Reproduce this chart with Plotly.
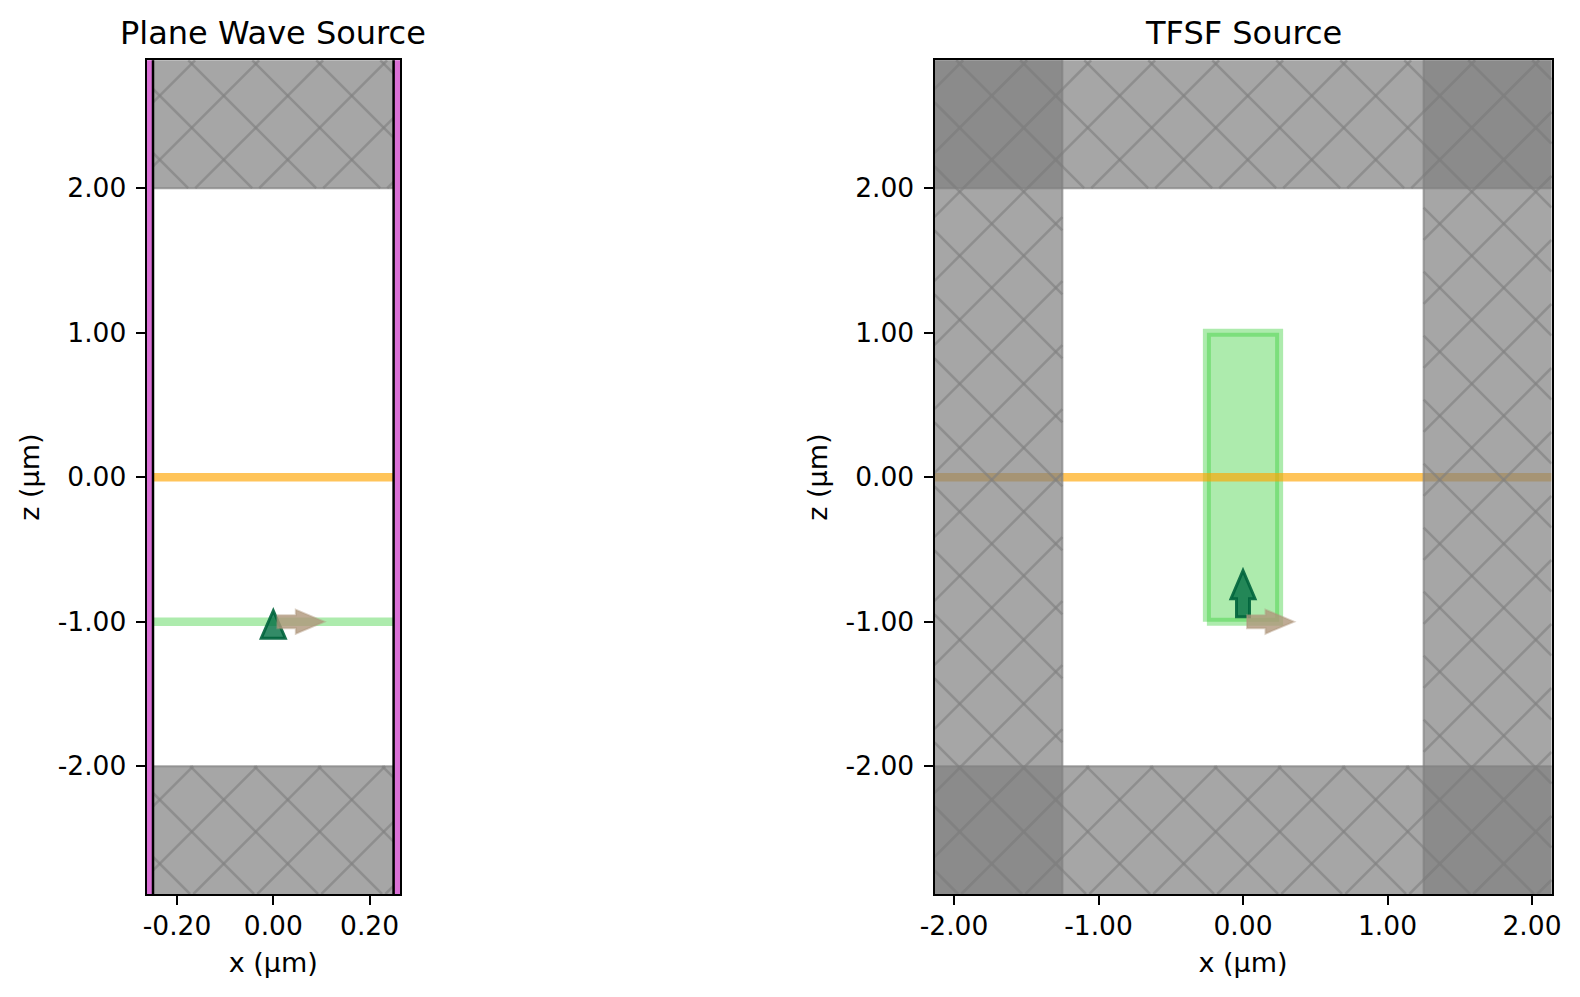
import plotly.graph_objects as go

# page offset of the plot div (default body margin)
PAGE_PAD = 8
FIG_W = 1564
FIG_H = 981

# data
plane_xlim = [-0.2633, 0.2633]
tfsf_xlim = [-2.135, 2.135]
zlim = [-2.885, 2.885]
plane_xticks = [-0.2, 0.0, 0.2]
tfsf_xticks = [-2, -1, 0, 1, 2]
zticks = [-2, -1, 0, 1, 2]
sim_half_x_plane = 0.25
tfsf_pml_x = 1.25
pml_z = 2.0
source_z = -1.0
monitor_z = 0.0
box_half_x = 0.25
box_z = [-1.0, 1.0]

FONT = "DejaVu Sans"
PML_FILL = "rgba(128,128,128,0.7)"
HATCH_COL = "rgba(128,128,128,0.62)"
ORANGE = "rgba(255,165,0,0.65)"
GREEN = "rgba(50,205,50,0.4)"
ORCHID = "#da70d6"
POL_FILL = "rgba(0,110,65,0.8)"
POL_EDGE = "rgba(0,100,60,0.9)"
DIR_FILL = "rgba(175,150,122,0.8)"
DIR_EDGE = "rgba(175,150,125,0.45)"

# panel boxes in page pixels
left_px = [146.6, 400.0]
right_px = [934.5, 1551.5]
top_px, bot_px = 60.3, 894.0
# matplotlib hatch is anchored to the figure, so keep one lattice for both panels
HATCH = 64.0
hatch_org = (191.7, 127.7)


def xdomain(px):
    return [(px[0] - PAGE_PAD) / FIG_W, (px[1] - PAGE_PAD) / FIG_W]


def fmt(vals):
    return ["%.2f" % v for v in vals]


def rect(x0, x1, z0, z1, fill, line, width, xa, ya):
    return go.Scatter(x=[x0, x1, x1, x0, x0], y=[z0, z0, z1, z1, z0], mode="lines",
                      fill="toself", fillcolor=fill, line=dict(color=line, width=width),
                      xaxis=xa, yaxis=ya, hoverinfo="skip", showlegend=False)


def hline(x0, x1, z, color, xa, ya):
    return go.Scatter(x=[x0, x1], y=[z, z], mode="lines", line=dict(color=color, width=8.5),
                      xaxis=xa, yaxis=ya, hoverinfo="skip", showlegend=False)


def hatch(x0, x1, z0, z1, xlim, px, xa, ya):
    # both diagonal families clipped to the rectangle, in page pixels
    sx = (px[1] - px[0]) / (xlim[1] - xlim[0])
    sz = (bot_px - top_px) / (zlim[1] - zlim[0])
    to_px_x = lambda v: px[0] + (v - xlim[0]) * sx
    to_px_y = lambda v: bot_px - (v - zlim[0]) * sz
    a, b = to_px_x(max(x0, xlim[0])), to_px_x(min(x1, xlim[1]))
    c, d = to_px_y(min(z1, zlim[1])), to_px_y(max(z0, zlim[0]))
    xs, ys = [], []
    for s in (1, -1):
        for k in range(-40, 40):
            off = hatch_org[1] - s * hatch_org[0] + k * HATCH
            # y = s * x + off
            lo = max(a, min((c - off) / s, (d - off) / s))
            hi = min(b, max((c - off) / s, (d - off) / s))
            if lo >= hi:
                continue
            for p in (lo, hi):
                xs.append(xlim[0] + (p - px[0]) / sx)
                ys.append(zlim[0] + (bot_px - (s * p + off)) / sz)
            xs.append(None)
            ys.append(None)
    return go.Scatter(x=xs, y=ys, mode="lines", line=dict(color=HATCH_COL, width=2.5),
                      xaxis=xa, yaxis=ya, hoverinfo="skip", showlegend=False)


def pml(x0, x1, z0, z1, xlim, px, xa, ya):
    return [rect(x0, x1, z0, z1, PML_FILL, PML_FILL, 2, xa, ya),
            hatch(x0, x1, z0, z1, xlim, px, xa, ya)]


def arrow_shape(points, fill, line, width, xa, ya, ax, az):
    path = "M" + " L".join("%g,%g" % p for p in points) + " Z"
    return dict(type="path", xref=xa, yref=ya, xsizemode="pixel", ysizemode="pixel",
                xanchor=ax, yanchor=az, path=path, fillcolor=fill,
                line=dict(color=line, width=width), layer="above")


fig = go.Figure()

# left panel, plane wave
zmax = zlim[1] + 0.2
fig.add_trace(hline(-sim_half_x_plane, sim_half_x_plane, monitor_z, ORANGE, "x", "y"))
fig.add_trace(hline(-sim_half_x_plane, sim_half_x_plane, source_z, GREEN, "x", "y"))
for z0, z1 in [(pml_z, zmax), (-zmax, -pml_z)]:
    fig.add_traces(pml(-sim_half_x_plane, sim_half_x_plane, z0, z1, plane_xlim, left_px, "x", "y"))
for x0, x1 in [(-0.4, -sim_half_x_plane), (sim_half_x_plane, 0.4)]:
    fig.add_trace(rect(x0, x1, -zmax, zmax, ORCHID, "black", 2.5, "x", "y"))

# right panel, TFSF
fig.add_trace(rect(-box_half_x, box_half_x, box_z[0], box_z[1], GREEN, GREEN, 8, "x2", "y2"))
fig.add_trace(hline(tfsf_xlim[0], tfsf_xlim[1], monitor_z, ORANGE, "x2", "y2"))
xmax = tfsf_xlim[1] + 0.2
for z0, z1 in [(pml_z, zmax), (-zmax, -pml_z)]:
    fig.add_traces(pml(-xmax, xmax, z0, z1, tfsf_xlim, right_px, "x2", "y2"))
for x0, x1 in [(-xmax, -tfsf_pml_x), (tfsf_pml_x, xmax)]:
    fig.add_traces(pml(x0, x1, -zmax, zmax, tfsf_xlim, right_px, "x2", "y2"))

# arrows, sized in pixels round their anchor
head = 12
shaft = 6.5
dir_pts = [(4, -shaft), (22.5, -shaft), (22.5, -head), (51, 0), (22.5, head), (22.5, shaft), (4, shaft)]
pol_pts = [(-shaft, 5), (-shaft, 23), (-head, 23), (0, 51), (head, 23), (shaft, 23), (shaft, 5)]
pol_short = [(-head, -16.5), (0, 11), (head, -16.5)]
shapes = [
    arrow_shape(pol_short, POL_FILL, POL_EDGE, 3, "x", "y", 0, source_z),
    arrow_shape(dir_pts, DIR_FILL, DIR_EDGE, 2, "x", "y", 0, source_z),
    arrow_shape(pol_pts, POL_FILL, POL_EDGE, 3, "x2", "y2", 0, source_z),
    arrow_shape(dir_pts, DIR_FILL, DIR_EDGE, 2, "x2", "y2", 0, source_z),
]

ydom = [1 - (bot_px - PAGE_PAD) / FIG_H, 1 - (top_px - PAGE_PAD) / FIG_H]
ax = dict(showgrid=False, zeroline=False, showline=True, linecolor="black", linewidth=2, mirror=True,
          ticks="outside", ticklen=9, tickwidth=2, tickcolor="black", tickmode="array", automargin=False,
          tickfont=dict(family=FONT, size=26.5, color="black"))
xt = dict(text="x (µm)", font=dict(family=FONT, size=27, color="black"), standoff=13)
zt = dict(text="z (µm)", font=dict(family=FONT, size=27, color="black"), standoff=10)


def title_ann(text, px):
    return dict(text=text, xref="paper", yref="paper", x=(sum(px) / 2 - PAGE_PAD) / FIG_W,
                y=1 - (33 - PAGE_PAD) / FIG_H, xanchor="center", yanchor="middle", showarrow=False,
                font=dict(family=FONT, size=32, color="black"))


fig.update_layout(
    width=FIG_W, height=FIG_H, margin=dict(l=0, r=0, t=0, b=0), showlegend=False,
    paper_bgcolor="white", plot_bgcolor="white", shapes=shapes,
    annotations=[title_ann("Plane Wave Source", left_px), title_ann("TFSF Source", right_px)],
    xaxis=dict(ax, domain=xdomain(left_px), range=plane_xlim, tickvals=plane_xticks, ticklabelstandoff=-2,
               ticktext=fmt(plane_xticks), title=xt, anchor="y"),
    yaxis=dict(ax, domain=ydom, range=zlim, tickvals=zticks, ticktext=fmt(zticks), title=zt, anchor="x",
               ticklabelstandoff=4),
    xaxis2=dict(ax, domain=xdomain(right_px), range=tfsf_xlim, tickvals=tfsf_xticks, ticklabelstandoff=-2,
                ticktext=fmt(tfsf_xticks), title=xt, anchor="y2"),
    yaxis2=dict(ax, domain=ydom, range=zlim, tickvals=zticks, ticktext=fmt(zticks), title=zt, anchor="x2",
                ticklabelstandoff=4),
)

fig.write_html("out.html")
